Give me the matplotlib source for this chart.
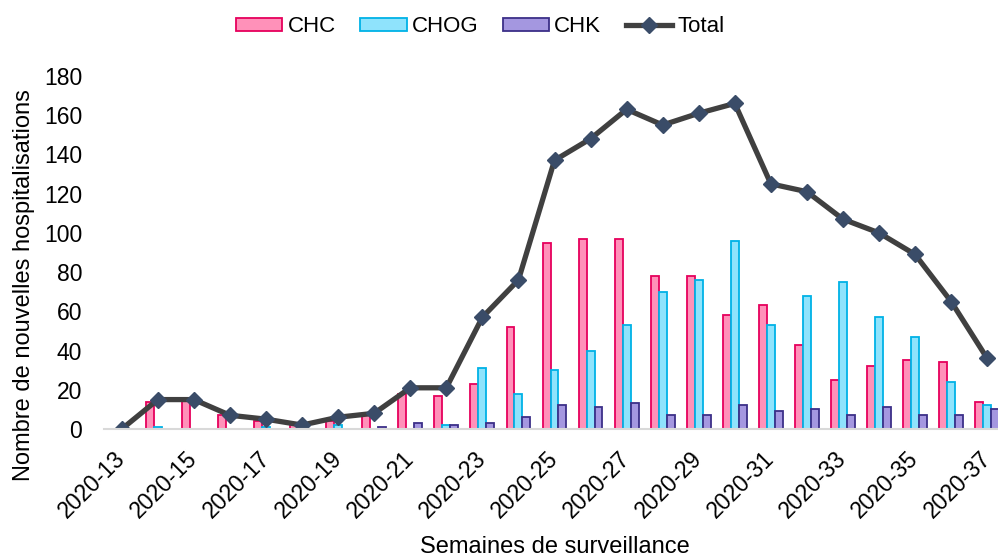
import matplotlib.pyplot as plt
import numpy as np
from matplotlib.lines import Line2D
from matplotlib.patches import Patch

plt.rcParams['font.family'] = ['Liberation Sans', 'DejaVu Sans']

weeks = [f'2020-{w}' for w in range(13, 38)]
chc = [0, 14, 15, 7, 4, 2, 4, 7, 18, 17, 23, 52, 95, 97, 97, 78, 78, 58, 63, 43, 25, 32, 35, 34, 14]
chog = [0, 1, 0, 0, 1, 0, 2, 0, 0, 2, 31, 18, 30, 40, 53, 70, 76, 96, 53, 68, 75, 57, 47, 24, 12]
chk = [0, 0, 0, 0, 0, 0, 0, 1, 3, 2, 3, 6, 12, 11, 13, 7, 7, 12, 9, 10, 7, 11, 7, 7, 10]
total = [0, 15, 15, 7, 5, 2, 6, 8, 21, 21, 57, 76, 137, 148, 163, 155, 161, 166, 125, 121, 107, 100, 89, 65, 36]

fig = plt.figure(figsize=(9.98, 5.58), dpi=100)
ax = fig.add_axes([0.104, 0.2312, 0.896, 0.6326])

x = np.arange(len(weeks))
w = 0.22
ax.bar(x - w, chc, w, color='#FF91B9', edgecolor='#E6005C', linewidth=1.3)
ax.bar(x, chog, w, color='#8FE3FC', edgecolor='#00B2E6', linewidth=1.3)
ax.bar(x + w, chk, w, color='#A497E0', edgecolor='#3C2F88', linewidth=1.3)
ax.plot(x, total, color='#404040', linewidth=3.8, marker='D', markersize=8.5,
        markerfacecolor='#3A4C68', markeredgecolor='#3A4C68', zorder=5)

ax.set_xlim(-0.5, 24.3)
ax.set_ylim(0, 180)
ax.set_yticks(range(0, 181, 20))
ax.set_xticks(x[::2])
ax.set_xticklabels(weeks[::2], rotation=45, ha='right', va='center',
                   rotation_mode='anchor', fontsize=16.5)
ax.tick_params(axis='y', labelsize=16.5, length=0, pad=15.5)
ax.tick_params(axis='x', length=0, pad=19)
for s in ['top', 'right', 'left']:
    ax.spines[s].set_visible(False)
ax.spines['bottom'].set_color('#D9D9D9')
ax.spines['bottom'].set_linewidth(1.5)
ax.spines['bottom'].set_zorder(6)

fig.text(0.024, 0.49, 'Nombre de nouvelles hospitalisations', fontsize=17,
         rotation=90, ha='center', va='center')
fig.text(0.556, 0.0, 'Semaines de surveillance', fontsize=17, ha='center', va='bottom')

handles = [
    Patch(facecolor='#FF91B9', edgecolor='#E6005C', linewidth=1.3),
    Patch(facecolor='#8FE3FC', edgecolor='#00B2E6', linewidth=1.3),
    Patch(facecolor='#A497E0', edgecolor='#3C2F88', linewidth=1.3),
    Line2D([], [], color='#404040', linewidth=3.8, marker='D', markersize=8.5,
           markerfacecolor='#3A4C68', markeredgecolor='#3A4C68'),
]
fig.legend(handles, ['CHC', 'CHOG', 'CHK', 'Total'], loc='center',
           bbox_to_anchor=(0.481, 0.952), ncol=4, frameon=False, fontsize=16,
           handlelength=2.1, handleheight=0.55, handletextpad=0.22, columnspacing=1.1)

fig.savefig('out.png', dpi=100)
